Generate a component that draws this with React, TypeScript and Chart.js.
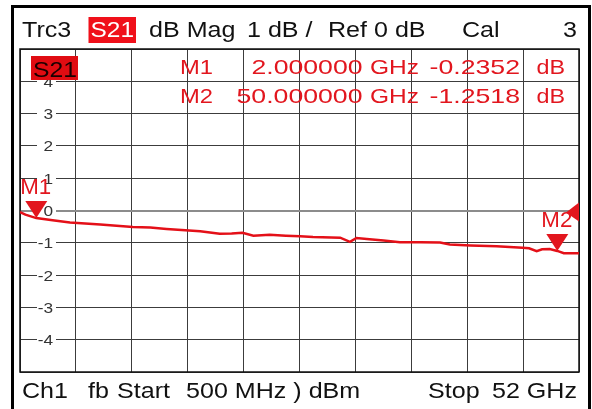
import React, { useEffect, useRef } from 'react';
import { Chart, registerables } from 'chart.js';

Chart.register(...registerables);

// ---- Data ----
const freqGHz = [0.5, 1.0, 2.0, 3.5, 5.1, 7.9, 10.9, 12.5, 14.0, 17.1, 18.9, 20.0, 21.0, 22.0, 23.5, 25.0, 26.3, 27.5, 30.0, 30.9, 31.5, 32.7, 34.0, 35.5, 37.4, 39.2, 40.1, 42.0, 44.4, 46.8, 47.4, 48.1, 48.6, 49.3, 50.0, 50.6, 52.0];
const s21dB = [-0.05, -0.13, -0.2352, -0.30, -0.37, -0.43, -0.51, -0.53, -0.57, -0.64, -0.72, -0.71, -0.69, -0.78, -0.75, -0.78, -0.80, -0.82, -0.84, -0.97, -0.85, -0.89, -0.93, -0.98, -0.98, -0.99, -1.05, -1.08, -1.11, -1.15, -1.17, -1.26, -1.20, -1.19, -1.2518, -1.32, -1.32];

const markerNames = ['M1', 'M2'];
const markerFreqGHz = [2.0, 50.0];
const markerDb = [-0.2352, -1.2518];

const xMin = 0.5;
const xMax = 52;
const yMin = -5;
const yMax = 5;
const yStep = 1;
const refLevel = 0;

const headerTexts = ['Trc3', 'S21', 'dB Mag', '1 dB /', 'Ref 0 dB', 'Cal', '3'];
const footerTexts = ['Ch1', 'fb', 'Start', '500 MHz ) dBm', 'Stop', '52 GHz'];
const traceName = 'S21';

// ---- Layout / style (not data) ----
const FONT = '"Liberation Sans", Arial, sans-serif';
const RED_BOX = '#f0101a';
const RED_TRACE = '#e41018';
const RED_TEXT = '#e2161e';
const HSCALE = 1.14;
const HEADER_POS: [number, string][] = [[22, 'l'], [91, 'l'], [149, 'l'], [247, 'l'], [328, 'l'], [462, 'l'], [577, 'r']];
const FOOTER_POS: [number, string][] = [[22, 'l'], [88, 'l'], [117, 'l'], [186, 'l'], [428, 'l'], [577, 'r']];

function fitText(ctx: CanvasRenderingContext2D, text: string, x0: number, x1: number, baseline: number, size: number, color: string) {
  ctx.save();
  ctx.font = `${size}px ${FONT}`;
  const w = ctx.measureText(text).width;
  const sx = w > 0 ? (x1 - x0) / w : 1;
  ctx.translate(x0, baseline);
  ctx.scale(sx, 1);
  ctx.fillStyle = color;
  ctx.textAlign = 'left';
  ctx.textBaseline = 'alphabetic';
  ctx.fillText(text, 0, 0);
  ctx.restore();
}

function scaledText(ctx: CanvasRenderingContext2D, text: string, x: number, align: string, baseline: number, size: number, color: string) {
  ctx.save();
  ctx.font = `${size}px ${FONT}`;
  const w = ctx.measureText(text).width * HSCALE;
  const x0 = align === 'r' ? x - w : x;
  ctx.translate(x0, baseline);
  ctx.scale(HSCALE, 1);
  ctx.fillStyle = color;
  ctx.textAlign = 'left';
  ctx.textBaseline = 'alphabetic';
  ctx.fillText(text, 0, 0);
  ctx.restore();
}

const vnaPlugin = {
  id: 'vnaDecor',
  beforeDraw(chart: any) {
    const { ctx, width, height } = chart;
    ctx.save();
    ctx.fillStyle = '#ffffff';
    ctx.fillRect(0, 0, width, height);
    ctx.restore();
  },
  beforeDatasetsDraw(chart: any) {
    const { ctx, chartArea, scales } = chart;
    const y = scales.y;
    ctx.save();
    y.ticks.forEach((t: any) => {
      if (t.value <= yMin || t.value >= yMax) return;
      const py = y.getPixelForValue(t.value);
      ctx.fillStyle = '#ffffff';
      ctx.fillRect(chartArea.left + 17, py - 5, 19, 10);
      ctx.font = `15px ${FONT}`;
      const label = String(t.value);
      const w = ctx.measureText(label).width * 1.15;
      ctx.save();
      ctx.translate(chartArea.left + 33 - w, py + 5.5);
      ctx.scale(1.15, 1);
      ctx.fillStyle = '#333333';
      ctx.fillText(label, 0, 0);
      ctx.restore();
    });
    ctx.strokeStyle = '#111111';
    ctx.lineWidth = 1.5;
    ctx.strokeRect(chartArea.left, chartArea.top, chartArea.right - chartArea.left, chartArea.bottom - chartArea.top);
    ctx.restore();
  },
  afterDraw(chart: any) {
    const { ctx, chartArea, scales } = chart;
    const xs = scales.x;
    const ys = scales.y;
    ctx.save();
    ctx.strokeStyle = '#000000';
    ctx.lineWidth = 3;
    ctx.strokeRect(12.5, 6.5, 577, 420);

    // header
    ctx.fillStyle = RED_BOX;
    ctx.fillRect(88.5, 17, 47.5, 26);
    headerTexts.forEach((t, i) => {
      const [x, al] = HEADER_POS[i];
      if (i === 1) fitText(ctx, t, 90.5, 134, 37, 22, '#ffffff');
      else scaledText(ctx, t, x, al, 37, 22, '#111111');
    });

    // trace label box
    ctx.fillStyle = '#e00c12';
    ctx.fillRect(chartArea.left + 11, chartArea.top + 7, 47, 24);
    fitText(ctx, traceName, chartArea.left + 13, chartArea.left + 57, chartArea.top + 28, 22, '#1a0000');

    // marker readout
    const rowBase = [74, 103];
    markerNames.forEach((name, i) => {
      const b = rowBase[i];
      const fStr = markerFreqGHz[i].toFixed(6);
      const vStr = markerDb[i].toFixed(4);
      fitText(ctx, name, 180, 213, b, 21, RED_TEXT);
      fitText(ctx, fStr, fStr.length > 8 ? 236.5 : 251.5, 362.5, b, 21, RED_TEXT);
      fitText(ctx, 'GHz', 370, 419, b, 21, RED_TEXT);
      fitText(ctx, vStr, 429.5, 520, b, 21, RED_TEXT);
      fitText(ctx, 'dB', 536.5, 565, b, 21, RED_TEXT);
    });

    // reference level arrow on right edge
    const yRef = ys.getPixelForValue(refLevel);
    ctx.fillStyle = RED_TEXT;
    ctx.beginPath();
    ctx.moveTo(chartArea.right, yRef - 8);
    ctx.lineTo(chartArea.right, yRef + 11);
    ctx.lineTo(chartArea.right - 13, yRef + 2);
    ctx.closePath();
    ctx.fill();

    // markers
    markerNames.forEach((name, i) => {
      const px = xs.getPixelForValue(markerFreqGHz[i]);
      const py = ys.getPixelForValue(markerDb[i]);
      ctx.fillStyle = RED_TEXT;
      ctx.beginPath();
      ctx.moveTo(px - 11, py - 17);
      ctx.lineTo(px + 11, py - 17);
      ctx.lineTo(px, py);
      ctx.closePath();
      ctx.fill();
      fitText(ctx, name, px - 16, px + 15, py - 24, 22, RED_TEXT);
    });

    // footer
    footerTexts.forEach((t, i) => {
      const [x, al] = FOOTER_POS[i];
      scaledText(ctx, t, x, al, 398, 22, '#111111');
    });
    ctx.restore();
  },
};

export default function App() {
  const ref = useRef<HTMLCanvasElement | null>(null);
  useEffect(() => {
    const canvas = ref.current;
    if (!canvas) return;
    const chart = new Chart(canvas, {
      type: 'line',
      data: {
        datasets: [
          {
            label: traceName,
            data: freqGHz.map((f, i) => ({ x: f, y: s21dB[i] })),
            borderColor: RED_TRACE,
            borderWidth: 2.5,
            pointRadius: 0,
            tension: 0,
            fill: false,
          },
        ],
      },
      options: {
        responsive: false,
        animation: false,
        events: [],
        layout: { padding: { left: 20, top: 49, right: 13, bottom: 37 } },
        plugins: { legend: { display: false }, tooltip: { enabled: false }, title: { display: false } },
        scales: {
          x: {
            type: 'linear',
            min: xMin,
            max: xMax,
            ticks: { display: false, count: 11 },
            grid: { color: '#3c3c3c', lineWidth: 1, drawTicks: false },
            border: { display: false },
          },
          y: {
            type: 'linear',
            min: yMin,
            max: yMax,
            ticks: { display: false, stepSize: yStep },
            grid: {
              color: (c: any) => (c.tick && c.tick.value === refLevel ? '#8c8c8c' : '#3c3c3c'),
              lineWidth: (c: any) => (c.tick && c.tick.value === refLevel ? 2 : 1),
              drawTicks: false,
            },
            border: { display: false },
          },
        },
      },
      plugins: [vnaPlugin],
    });
    return () => chart.destroy();
  }, []);
  return (
    <div style={{ position: 'fixed', left: 0, top: 0, width: 592, height: 409, background: '#fff' }}>
      <canvas ref={ref} width={592} height={409} style={{ display: 'block' }} />
    </div>
  );
}
